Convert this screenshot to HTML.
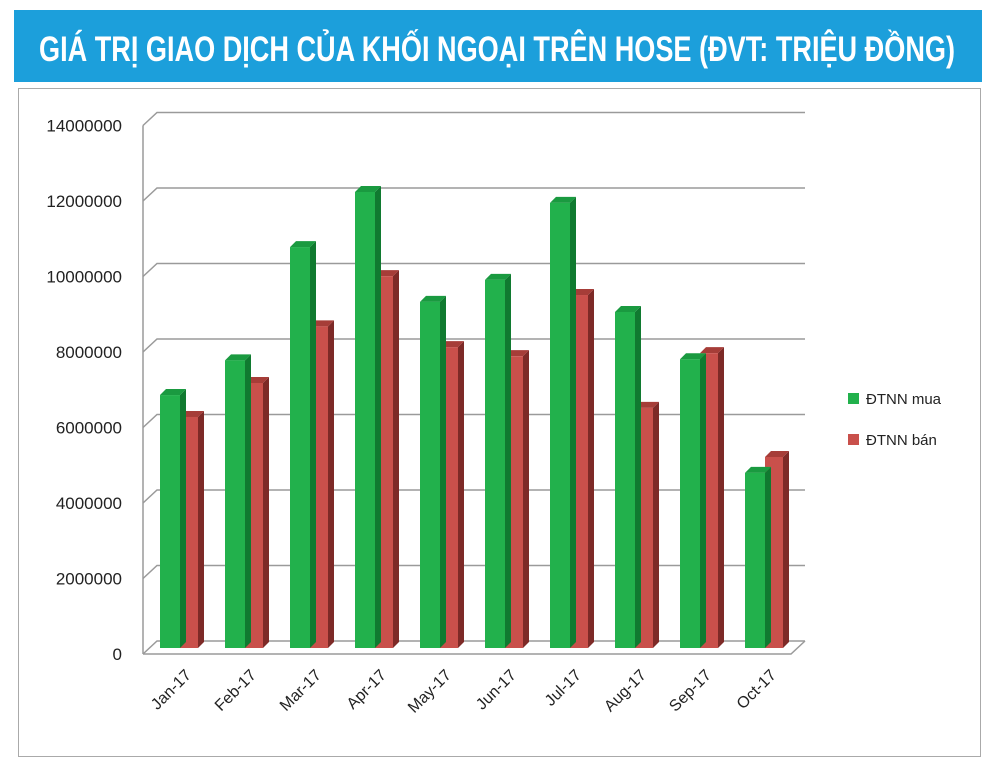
<!DOCTYPE html>
<html><head><meta charset="utf-8"><style>
html,body{margin:0;padding:0;background:#fff;}
svg{display:block;font-family:"Liberation Sans",sans-serif;}
</style></head><body>
<svg id="chart" width="995" height="772" viewBox="0 0 995 772">
<rect x="14" y="10" width="968" height="72" fill="#1c9fdb"/>
<text x="497" y="61" text-anchor="middle" fill="#fff" font-family="'Liberation Sans Narrow','Liberation Sans',sans-serif" font-weight="bold" font-size="35" textLength="916" lengthAdjust="spacingAndGlyphs">GIÁ TRỊ GIAO DỊCH CỦA KHỐI NGOẠI TRÊN HOSE (ĐVT: TRIỆU ĐỒNG)</text>
<rect x="18.5" y="88.5" width="962" height="668" fill="none" stroke="#aaa"/>
<g id="grid"></g><g id="bars"></g><g id="axes"></g>
<g>
<rect x="848" y="393" width="11" height="11" fill="#22b14c"/>
<text x="866" y="404" font-size="15" fill="#222">ĐTNN mua</text>
<rect x="848" y="434" width="11" height="11" fill="#c9504b"/>
<text x="866" y="445" font-size="15" fill="#222">ĐTNN bán</text>
</g>
</svg>
<script>
const categories=["Jan-17","Feb-17","Mar-17","Apr-17","May-17","Jun-17","Jul-17","Aug-17","Sep-17","Oct-17"];
const muaValues=[6780000,7700000,10700000,12160000,9250000,9830000,11870000,8980000,7730000,4720000];
const banValues=[6200000,7100000,8600000,9930000,8050000,7810000,9430000,6440000,7890000,5140000];
const yTicks=[0,2000000,4000000,6000000,8000000,10000000,12000000,14000000];
const yTickLabels=["0","2000000","4000000","6000000","8000000","10000000","12000000","14000000"];
const NS="http://www.w3.org/2000/svg";
const front0=654, pxPer=75.5/2000000, dx=14, dy=-13;
const frontX=143, backRight=805;
const y=v=>front0-v*pxPer;
const xc=i=>160+i*65;
function mk(tag,attrs,parent){const e=document.createElementNS(NS,tag);for(const k in attrs)e.setAttribute(k,attrs[k]);parent.appendChild(e);return e;}
const grid=document.getElementById('grid'),bars=document.getElementById('bars'),axes=document.getElementById('axes');
yTicks.forEach((t,i)=>{
  const yy=y(t);
  const g=mk('polyline',{points:`${frontX},${yy} ${frontX+dx},${yy+dy} ${backRight},${yy+dy}`,fill:'none',stroke:'#9a9a9a','stroke-width':1.5},grid);
  
  
  const l=mk('text',{x:122,y:yy+6,'text-anchor':'end','font-size':17,fill:'#222'},axes);
  l.textContent=yTickLabels[i];
  
  
});
const va=mk('line',{x1:frontX,y1:y(0),x2:frontX,y2:y(14000000),stroke:'#9a9a9a','stroke-width':1.5},axes);


const fl=mk('polyline',{points:`${frontX},${front0} ${backRight-dx},${front0} ${backRight},${front0+dy}`,fill:'none',stroke:'#9a9a9a','stroke-width':1.5},axes);


function bar(x,w,v,face,side,top,name){
  const b=front0-6, t=b-v*pxPer+3, d=6;
  const g=mk('g',{},bars);
  
  
  mk('polygon',{points:`${x+w},${b} ${x+w+d},${b-d} ${x+w+d},${t-d} ${x+w},${t}`,fill:side},g);
  mk('polygon',{points:`${x},${t} ${x+d},${t-d} ${x+w+d},${t-d} ${x+w},${t}`,fill:top},g);
  mk('rect',{x:x,y:t,width:w,height:b-t,fill:face},g);
}
categories.forEach((c,i)=>{
  const x=xc(i);
  bar(x+20,18,banValues[i],'#c9504b','#7d2a27','#a63d38','bar-ban-'+c);
  bar(x,20,muaValues[i],'#22b14c','#107a30','#1a9a40','bar-mua-'+c);
  const l=mk('text',{x:0,y:0,'text-anchor':'end','font-size':16,fill:'#222',transform:`translate(${x+32},${676}) rotate(-45)`},axes);
  l.textContent=c;
  
  
});
</script>
</body></html>
